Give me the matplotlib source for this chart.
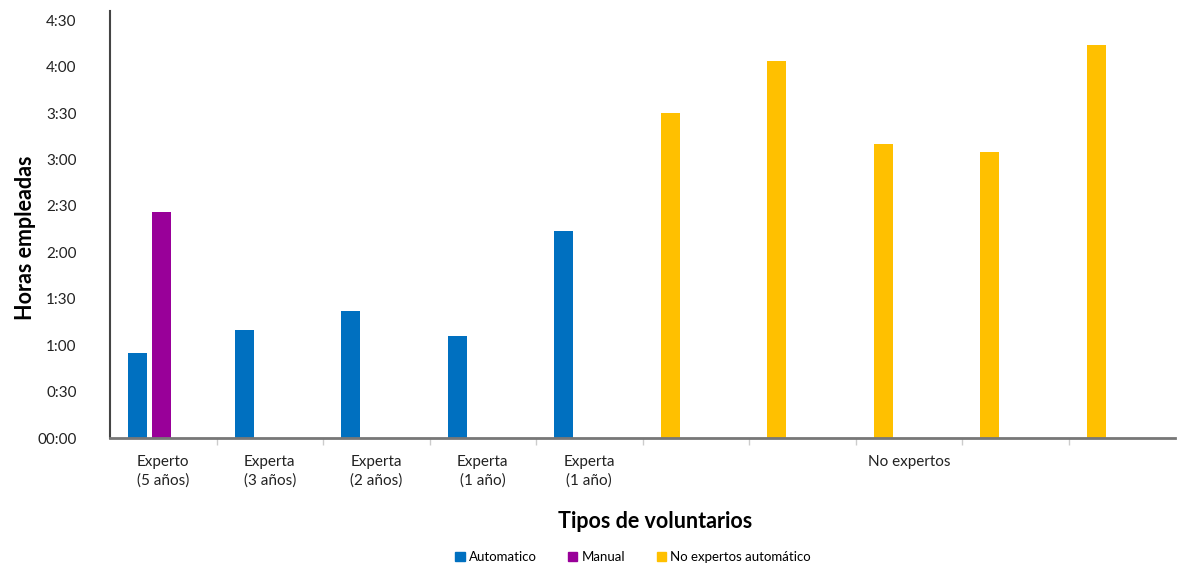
import matplotlib.pyplot as plt
from matplotlib.patches import Patch

# Minutes spent per volunteer type
group_labels = ['Experto\n(5 años)', 'Experta\n(3 años)', 'Experta\n(2 años)',
                'Experta\n(1 año)', 'Experta\n(1 año)']
automatico = [55, 70, 82, 66, 134]
manual = [146]
no_expertos = [210, 244, 190, 185, 254]
y_ticks = [0, 30, 60, 90, 120, 150, 180, 210, 240, 270]
y_tick_labels = ['00:00', '0:30', '1:00', '1:30', '2:00', '2:30', '3:00', '3:30', '4:00', '4:30']

c_auto = '#0070C0'
c_manual = '#990099'
c_noexp = '#FFC000'

plt.rcParams['font.family'] = ['Lato', 'DejaVu Sans']

fig = plt.figure(figsize=(11.78, 5.65), dpi=100)
ax = fig.add_axes([110 / 1178, 1 - 438 / 565, 1065 / 1178, 427 / 565])

width = 0.18
offset = -0.24

n_exp = len(automatico)
ax.bar([i + offset for i in range(n_exp)], automatico, width, color=c_auto)
ax.bar([-0.015], manual, width, color=c_manual)
ax.bar([n_exp + i + offset for i in range(len(no_expertos))], no_expertos, width, color=c_noexp)

ax.set_xlim(-0.5, 9.5)
ax.set_ylim(0, 276)
ax.set_yticks(y_ticks)
ax.set_yticklabels(y_tick_labels, fontsize=11, color='#222222')
ax.tick_params(axis='y', length=0, pad=24)

# category boundary tick marks
ax.set_xticks([i + 0.5 for i in range(9)])
ax.set_xticklabels([])
ax.tick_params(axis='x', length=5, color='#cccccc', width=1)

for s in ['top', 'right']:
    ax.spines[s].set_visible(False)
ax.spines['left'].set_color('#444444')
ax.spines['left'].set_linewidth(1.5)
ax.spines['bottom'].set_color('#777777')
ax.spines['bottom'].set_linewidth(2)

tr = ax.get_xaxis_transform()
for i, lab in enumerate(group_labels):
    ax.text(i, -0.04, lab, transform=tr, ha='center', va='top', fontsize=11,
            linespacing=1.4, color='#222222')
ax.text(7, -0.04, 'No expertos', transform=tr, ha='center', va='top', fontsize=11,
        color='#222222')

fig.text(655 / 1178, 1 - 522 / 565, 'Tipos de voluntarios', ha='center', va='center',
         fontsize=15.5, fontweight='bold')
fig.text(26 / 1178, 1 - 238 / 565, 'Horas empleadas', ha='center', va='center',
         rotation=90, fontsize=15.5, fontweight='bold')

handles = [Patch(color=c_auto), Patch(color=c_manual), Patch(color=c_noexp)]
fig.legend(handles, ['Automatico', 'Manual', 'No expertos automático'],
           loc='center', bbox_to_anchor=(633 / 1178, 1 - 557 / 565), ncol=3,
           frameon=False, fontsize=9.5, handlelength=0.7, handleheight=0.7,
           handletextpad=0.3, columnspacing=2.4)

fig.savefig('out.png', dpi=100)
